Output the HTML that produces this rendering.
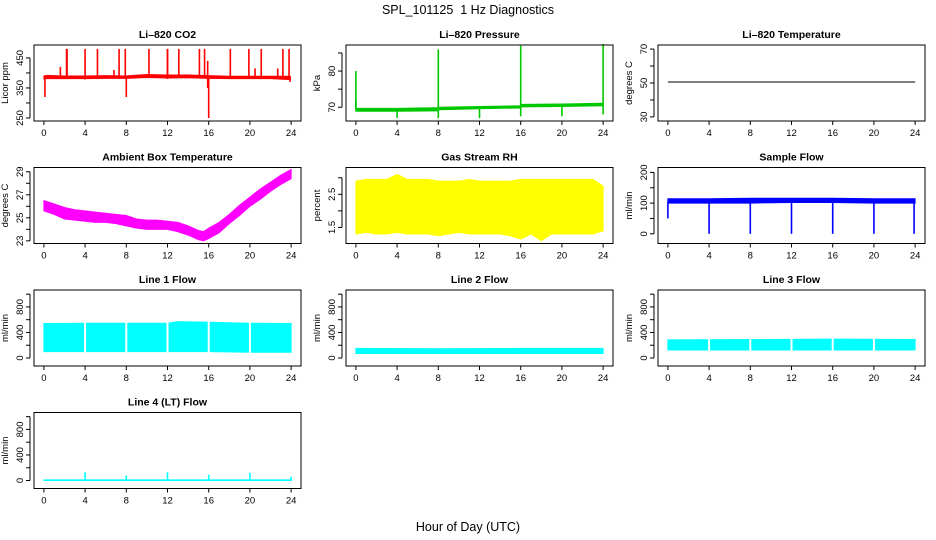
<!DOCTYPE html>
<html><head><meta charset="utf-8"><style>
body{margin:0;background:#fff}
svg{display:block;font-family:"Liberation Sans",Arial,sans-serif}
</style></head><body>
<svg id="chart" width="936" height="540" viewBox="0 0 936 540">
<text x="468" y="14" text-anchor="middle" font-size="12.5">SPL_101125&#160; 1 Hz Diagnostics</text>
<text x="468" y="531" text-anchor="middle" font-size="12.5">Hour of Day (UTC)</text>
</svg>
<script>
const xTicks=[0,4,8,12,16,20,24];
// CO2
const co2Hours=[0,0.3,2,4,6,8,10,12,14,16,18,20,22,23.9];
const co2Lo=[380,381,381,381,382,382,385,383,384,382,381,381,381,378];
const co2Hi=[390,392,390,390,391,390,395,393,393,391,389,389,389,389];
const co2SpikeHours=[0.1,1.6,2.2,2.25,4,5.2,6.8,7.3,7.9,8,10.2,12,12,13.1,15.1,15.6,15.9,16,18.1,19.9,20.5,21.1,22.7,23.2,23.8,23.9];
const co2SpikeFrom=[385,385,385,385,378,385,385,385,385,320,385,385,380,385,385,385,350,250,385,385,385,385,385,385,385,370];
const co2SpikeTo=[320,420,480,480,480,480,410,480,480,385,480,480,480,480,480,480,440,385,480,480,415,480,415,480,480,390];
// Pressure
const presHours=[0,4,8,8.1,12,16,16.1,20,24];
const presLo=[68.9,68.9,69.0,69.3,69.6,69.8,70.1,70.2,70.4];
const presHi=[69.7,69.7,69.9,70.0,70.2,70.4,70.8,70.9,71.1];
const presSpikeHours=[0,0,4,8,8,12,16,16,20,24,24];
const presSpikeFrom=[69.3,69.3,69.3,69.5,69.5,69.8,70.2,70.2,70.4,70.6,70.6];
const presSpikeTo=[80,72,67,86,67,67,87,67.5,67.5,87.5,68];
// Li-820 temperature
const tempHours=[0,24];
const tempVals=[50.6,50.6];
// Ambient box temperature
const ambHours=[0,1,2,3,4,5,6,7,8,9,10,11,12,13,14,15,15.5,16,17,18,19,20,21,22,23,24];
const ambLo=[25.6,25.3,24.9,24.8,24.7,24.6,24.6,24.5,24.3,24.1,24.0,24.0,24.0,23.8,23.5,23.1,23.0,23.2,23.7,24.5,25.2,26.0,26.6,27.3,27.9,28.4];
const ambHi=[26.5,26.2,25.9,25.7,25.6,25.5,25.4,25.3,25.2,24.9,24.8,24.8,24.7,24.6,24.3,23.9,23.8,24.1,24.6,25.3,26.1,26.8,27.5,28.1,28.7,29.2];
// Gas stream RH
const rhHours=[0,1,2,3,4,5,6,7,8,9,10,11,12,13,14,15,16,17,18,19,20,21,22,23,24];
const rhLo=[1.3,1.35,1.3,1.3,1.35,1.3,1.3,1.3,1.25,1.3,1.35,1.3,1.3,1.3,1.3,1.25,1.15,1.3,1.1,1.3,1.3,1.3,1.3,1.3,1.4];
const rhHi=[2.9,2.95,2.95,2.95,3.1,2.95,2.95,2.95,2.9,2.9,2.9,2.95,2.9,2.9,2.9,2.9,2.95,2.95,2.95,2.95,2.95,2.95,2.95,2.95,2.75];
// Sample flow
const sfHours=[0,4,8,12,16,20,24];
const sfLo=[100,100,100,102,102,100,100];
const sfHi=[114,114,116,116,116,114,114];
const sfSpikeHours=[0,4,8,12,16,20,23.9];
const sfSpikeFrom=[105,105,105,105,105,105,105];
const sfSpikeTo=[50,0,0,0,0,0,0];
// Line flows
const l1Hours=[0,4,8,12,13,16,20,24];
const l1Lo=[100,100,100,100,100,100,90,90];
const l1Hi=[540,545,545,545,570,560,545,540];
const l2Hours=[0,8,16,24];
const l2Lo=[70,70,70,70];
const l2Hi=[150,145,150,150];
const l3Hours=[0,8,16,24];
const l3Lo=[125,125,125,125];
const l3Hi=[285,290,295,290];
const l4Hours=[0,24];
const l4Lo=[0,0];
const l4Hi=[10,10];
const l4SpikeHours=[4,8,12,16,20,24];
const l4SpikeFrom=[5,5,5,5,5,5];
const l4SpikeTo=[130,80,130,90,120,60];
const flowGapHours=[4,8,12,16,20];

const NS="http://www.w3.org/2000/svg";
const svg=document.getElementById('chart');
function mk(tag,attrs,parent){const e=document.createElementNS(NS,tag);for(const k in attrs)e.setAttribute(k,attrs[k]);(parent||svg).appendChild(e);return e;}

function panel(o){
  const left=34+312*o.col, top=[45,167.5,290,412.5][o.row], W=267, H=76;
  const g=mk('g',{});
  
  
  const x=h=>left+(h+0.96)/25.92*W;
  const y=v=>top+H-(v-o.ymin)/(o.ymax-o.ymin)*H;
  if(o.lo){
    const pts=o.hours.map((h,i)=>x(h)+','+y(o.hi[i])).concat(o.hours.map((h,i)=>x(h)+','+y(o.lo[i])).reverse());
    const p=mk('polygon',{points:pts.join(' '),fill:o.color,stroke:o.color,'stroke-width':1},g);
    
    
  }
  if(o.vals){
    const p=mk('polyline',{points:o.hours.map((h,i)=>x(h)+','+y(o.vals[i])).join(' '),fill:'none',stroke:o.color,'stroke-width':1},g);
    
    
  }
  if(o.gaps){o.gaps.forEach(h=>{const l=mk('line',{x1:x(h),x2:x(h),y1:top+1,y2:top+H-1,stroke:'#fff','stroke-width':2},g);
    
    });}
  if(o.sh){o.sh.forEach((h,i)=>{const l=mk('line',{x1:x(h),x2:x(h),y1:y(o.sf[i]),y2:y(o.st[i]),stroke:o.color,'stroke-width':1.6},g);
    
    });}
  mk('rect',{x:left,y:top,width:W,height:H,fill:'none',stroke:'#000','stroke-width':1},g);
  const t=mk('text',{x:left+W/2,y:top-7,'text-anchor':'middle','font-size':10.5,'font-weight':'bold'},g);
  t.textContent=o.title;
  
  
  mk('line',{x1:x(0),x2:x(24),y1:top+H,y2:top+H,stroke:'#000'},g);
  xTicks.forEach(h=>{mk('line',{x1:x(h),x2:x(h),y1:top+H,y2:top+H+4,stroke:'#000'},g);
    const tt=mk('text',{x:x(h),y:top+H+15,'text-anchor':'middle','font-size':9.5},g);tt.textContent=h;
    
    });
  const ax=left-4;
  mk('line',{x1:ax,x2:ax,y1:y(o.yt[0]),y2:y(o.yt[o.yt.length-1]),stroke:'#000'},g);
  o.yt.forEach(v=>{mk('line',{x1:ax,x2:ax-4,y1:y(v),y2:y(v),stroke:'#000'},g);});
  o.yl.forEach(v=>{const tt=mk('text',{x:0,y:0,'text-anchor':'middle','font-size':9.5,transform:`translate(${ax-7},${y(v)}) rotate(-90)`},g);tt.textContent=v;
    
    });
  const yt=mk('text',{x:0,y:0,'text-anchor':'middle','font-size':9.5,transform:`translate(${left-26},${top+H/2}) rotate(-90)`},g);
  yt.textContent=o.ylab;
  
  
}
const lineTicks=[0,200,400,600,800,1000], lineLabs=[0,400,800];
panel({name:'co2',title:'Li\u2013820 CO2',row:0,col:0,ymin:240,ymax:493,yt:[250,300,350,400,450],yl:[250,350,450],ylab:'Licor ppm',color:'#ff0000',hours:co2Hours,lo:co2Lo,hi:co2Hi,sh:co2SpikeHours,sf:co2SpikeFrom,st:co2SpikeTo});
panel({name:'pressure',title:'Li\u2013820 Pressure',row:0,col:1,ymin:66.2,ymax:87.2,yt:[70,75,80,85],yl:[70,80],ylab:'kPa',color:'#00c800',hours:presHours,lo:presLo,hi:presHi,sh:presSpikeHours,sf:presSpikeFrom,st:presSpikeTo});
panel({name:'li820-temp',title:'Li\u2013820 Temperature',row:0,col:2,ymin:27.6,ymax:72.4,yt:[30,40,50,60,70],yl:[30,50,70],ylab:'degrees C',color:'#000000',hours:tempHours,vals:tempVals});
panel({name:'ambient-temp',title:'Ambient Box Temperature',row:1,col:0,ymin:22.77,ymax:29.37,yt:[23,24,25,26,27,28,29],yl:[23,25,27,29],ylab:'degrees C',color:'#ff00ff',hours:ambHours,lo:ambLo,hi:ambHi});
panel({name:'rh',title:'Gas Stream RH',row:1,col:1,ymin:1.015,ymax:3.31,yt:[1.5,2,2.5,3],yl:[1.5,2.5],ylab:'percent',color:'#ffff00',hours:rhHours,lo:rhLo,hi:rhHi});
panel({name:'sample-flow',title:'Sample Flow',row:1,col:2,ymin:-31.6,ymax:216,yt:[0,50,100,150,200],yl:[0,100,200],ylab:'ml/min',color:'#0000ff',hours:sfHours,lo:sfLo,hi:sfHi,sh:sfSpikeHours,sf:sfSpikeFrom,st:sfSpikeTo});
panel({name:'line1-flow',title:'Line 1 Flow',row:2,col:0,ymin:-125,ymax:1065,yt:lineTicks,yl:lineLabs,ylab:'ml/min',color:'#00ffff',hours:l1Hours,lo:l1Lo,hi:l1Hi,gaps:flowGapHours});
panel({name:'line2-flow',title:'Line 2 Flow',row:2,col:1,ymin:-125,ymax:1065,yt:lineTicks,yl:lineLabs,ylab:'ml/min',color:'#00ffff',hours:l2Hours,lo:l2Lo,hi:l2Hi});
panel({name:'line3-flow',title:'Line 3 Flow',row:2,col:2,ymin:-125,ymax:1065,yt:lineTicks,yl:lineLabs,ylab:'ml/min',color:'#00ffff',hours:l3Hours,lo:l3Lo,hi:l3Hi,gaps:flowGapHours});
panel({name:'line4-flow',title:'Line 4 (LT) Flow',row:3,col:0,ymin:-125,ymax:1065,yt:lineTicks,yl:lineLabs,ylab:'ml/min',color:'#00ffff',hours:l4Hours,lo:l4Lo,hi:l4Hi,sh:l4SpikeHours,sf:l4SpikeFrom,st:l4SpikeTo});
</script>
</body></html>
